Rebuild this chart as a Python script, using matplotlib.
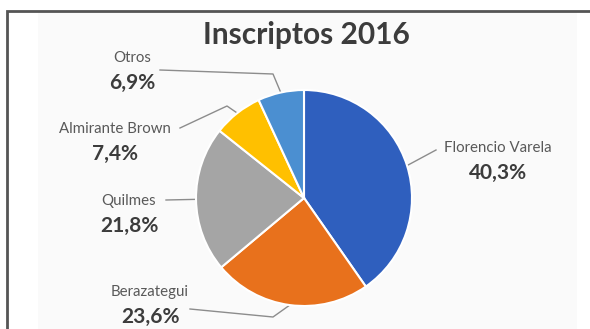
import numpy as np
import matplotlib
matplotlib.use('Agg')
import matplotlib.pyplot as plt
from matplotlib.patches import Rectangle

plt.rcParams['font.family'] = ['Lato', 'DejaVu Sans']

# datos
partidos = ['Florencio Varela', 'Berazategui', 'Quilmes', 'Almirante Brown', 'Otros']
porcentajes = [40.3, 23.6, 21.8, 7.4, 6.9]
colores = ['#2F5FBE', '#E8711C', '#A5A5A5', '#FFC000', '#4B8FD1']
titulo = 'Inscriptos 2016'

# layout en pixeles (y hacia abajo)
W, H = 590, 329
cx, cy, r = 304, 198, 108
pos_texto = [(498, 148), (150, 292), (129, 201), (115, 129), (132, 58)]
codos = [None, (273, 317), None, (227, 106), (273, 74)]
extremos = [(436, 150), (190, 309), (166, 200), (180, 128), (160, 70)]

fig = plt.figure(figsize=(W / 100, H / 100), dpi=100)
fig.patch.set_facecolor('white')
ax = fig.add_axes([0, 0, 1, 1])

ax.pie(porcentajes, colors=colores, startangle=90, counterclock=False,
       center=(cx, H - cy), radius=r,
       wedgeprops=dict(edgecolor='white', linewidth=1.5))
ax.set_xlim(0, W)
ax.set_ylim(0, H)
ax.set_aspect('equal')
ax.axis('off')

# fondo y marco
ax.add_patch(Rectangle((38, 0), 539, H - 12, facecolor='#fafafa',
                       edgecolor='none', zorder=-2))
ax.plot([7, 7, W + 5], [-5, H - 11, H - 11], color='#555555', lw=2,
        zorder=-1, solid_joinstyle='miter')

ax.text(306, H - 35, titulo, ha='center', va='center', fontsize=21.5,
        fontweight='bold', color='#3c3c3c')

acum = np.cumsum([0] + porcentajes[:-1])
for i, nombre in enumerate(partidos):
    ang = np.deg2rad(90 - (acum[i] + porcentajes[i] / 2) * 3.6)
    px, py = cx + r * np.cos(ang), cy - r * np.sin(ang)
    pts = [(px, py)]
    if codos[i] is not None:
        pts.append(codos[i])
    pts.append(extremos[i])
    xs = [p[0] for p in pts]
    ys = [H - p[1] for p in pts]
    ax.plot(xs, ys, color='#8c8c8c', lw=1, zorder=0)

    tx, ty = pos_texto[i]
    ax.text(tx, H - ty, nombre, ha='center', va='center', fontsize=10.8,
            color='#595959')
    ax.text(tx, H - ty - 25, f'{porcentajes[i]:.1f}%'.replace('.', ','),
            ha='center', va='center', fontsize=15, fontweight='bold',
            color='#3c3c3c')

fig.savefig('out.png', dpi=100, facecolor='white')
